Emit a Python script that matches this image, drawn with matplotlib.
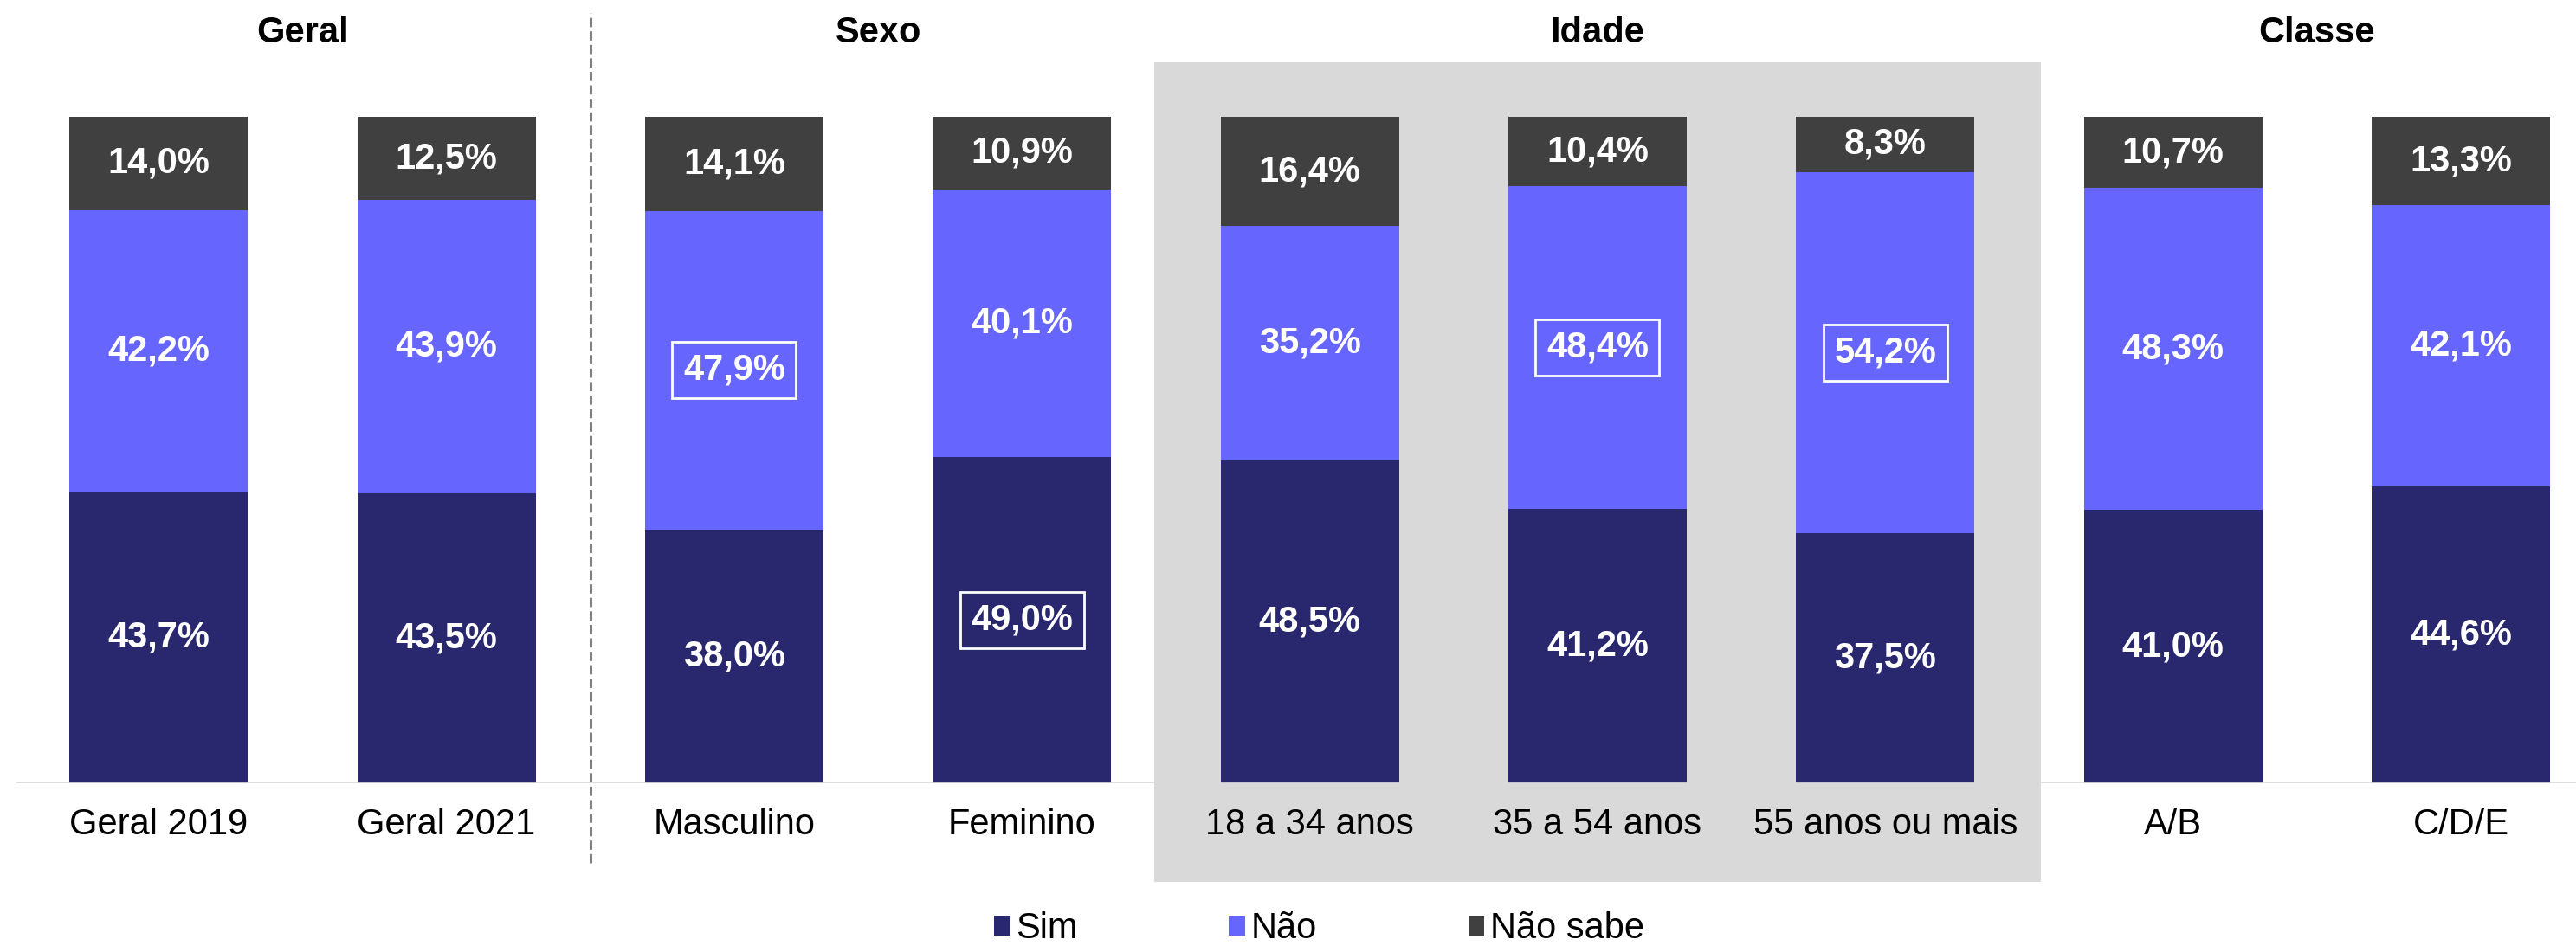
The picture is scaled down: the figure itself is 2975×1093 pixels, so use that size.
import matplotlib
matplotlib.use("Agg")
import matplotlib.pyplot as plt
from matplotlib.patches import Rectangle, Patch
import numpy as np

plt.rcParams['font.family'] = ['Liberation Sans', 'DejaVu Sans']

categories = ["Geral 2019", "Geral 2021", "Masculino", "Feminino",
              "18 a 34 anos", "35 a 54 anos", "55 anos ou mais", "A/B", "C/D/E"]
sim = [43.7, 43.5, 38.0, 49.0, 48.5, 41.2, 37.5, 41.0, 44.6]
nao = [42.2, 43.9, 47.9, 40.1, 35.2, 48.4, 54.2, 48.3, 42.1]
nao_sabe = [14.0, 12.5, 14.1, 10.9, 16.4, 10.4, 8.3, 10.7, 13.3]
series_names = ["Sim", "Não", "Não sabe"]
colors = ["#29286F", "#6666FF", "#404040"]
groups = [("Geral", [0, 1]), ("Sexo", [2, 3]), ("Idade", [4, 5, 6]), ("Classe", [7, 8])]
highlight = {(1, 2), (0, 3), (1, 5), (1, 6)}  # (series index, category index)

def fmt(v):
    return f"{v:.1f}%".replace(".", ",")

fig = plt.figure(figsize=(29.75, 10.93), dpi=100)
ax = fig.add_axes([0.0064, 0.172, 0.9936, 0.7045])

x = np.arange(len(categories))
data = np.array([sim, nao, nao_sabe])
totals = data.sum(axis=0)
frac = data / totals

bottom = np.zeros(len(categories))
for s in range(3):
    ax.bar(x, frac[s], width=0.62, bottom=bottom, color=colors[s], zorder=3)
    for i in range(len(categories)):
        yc = bottom[i] + frac[s][i] / 2
        kw = {}
        if (s, i) in highlight:
            kw['bbox'] = dict(boxstyle='square,pad=0.3', fc='none', ec='white', lw=2)
        ax.text(x[i], yc, fmt(data[s][i]), ha='center', va='center', color='white',
                fontsize=30, fontweight='bold', zorder=5, **kw)
    bottom += frac[s]

ax.set_xlim(-0.494, 8.40)
ax.set_ylim(0, 1)
ax.axhline(0, color='#D9D9D9', lw=2, zorder=4)

# group titles and gray highlight band for "Idade"
for name, idx in groups:
    cx = np.mean(x[idx])
    ax.text(cx, 1.126, name, ha='center', va='center', fontsize=30,
            fontweight='bold', color='black', clip_on=False)
    if name == "Idade":
        half = len(idx) / 2 + 0.04
        ax.add_patch(Rectangle((cx - half, -0.148), 2 * half, 1.23,
                               facecolor='#D9D9D9', edgecolor='none',
                               zorder=0, clip_on=False))

# dashed separator after "Geral"
sep = (x[groups[0][1][-1]] + x[groups[1][1][0]]) / 2
ax.plot([sep, sep], [-0.119, 1.156], color='#808080', lw=2.2,
        linestyle=(0, (3.5, 1.6)), clip_on=False, zorder=2)

ax.set_xticks(x)
ax.set_xticklabels(categories, fontsize=30)
ax.tick_params(axis='x', length=0, pad=20)
ax.set_yticks([])
for sp in ax.spines.values():
    sp.set_visible(False)
ax.patch.set_alpha(0)

handles = [Patch(facecolor=c, edgecolor='none') for c in colors]
fig.legend(handles, series_names, ncol=3, loc='center', bbox_to_anchor=(0.512, 0.018),
           frameon=False, fontsize=30, handlelength=0.45, handleheight=0.45,
           handletextpad=0.15, columnspacing=4.2)

fig.savefig("out.png", dpi=100)
